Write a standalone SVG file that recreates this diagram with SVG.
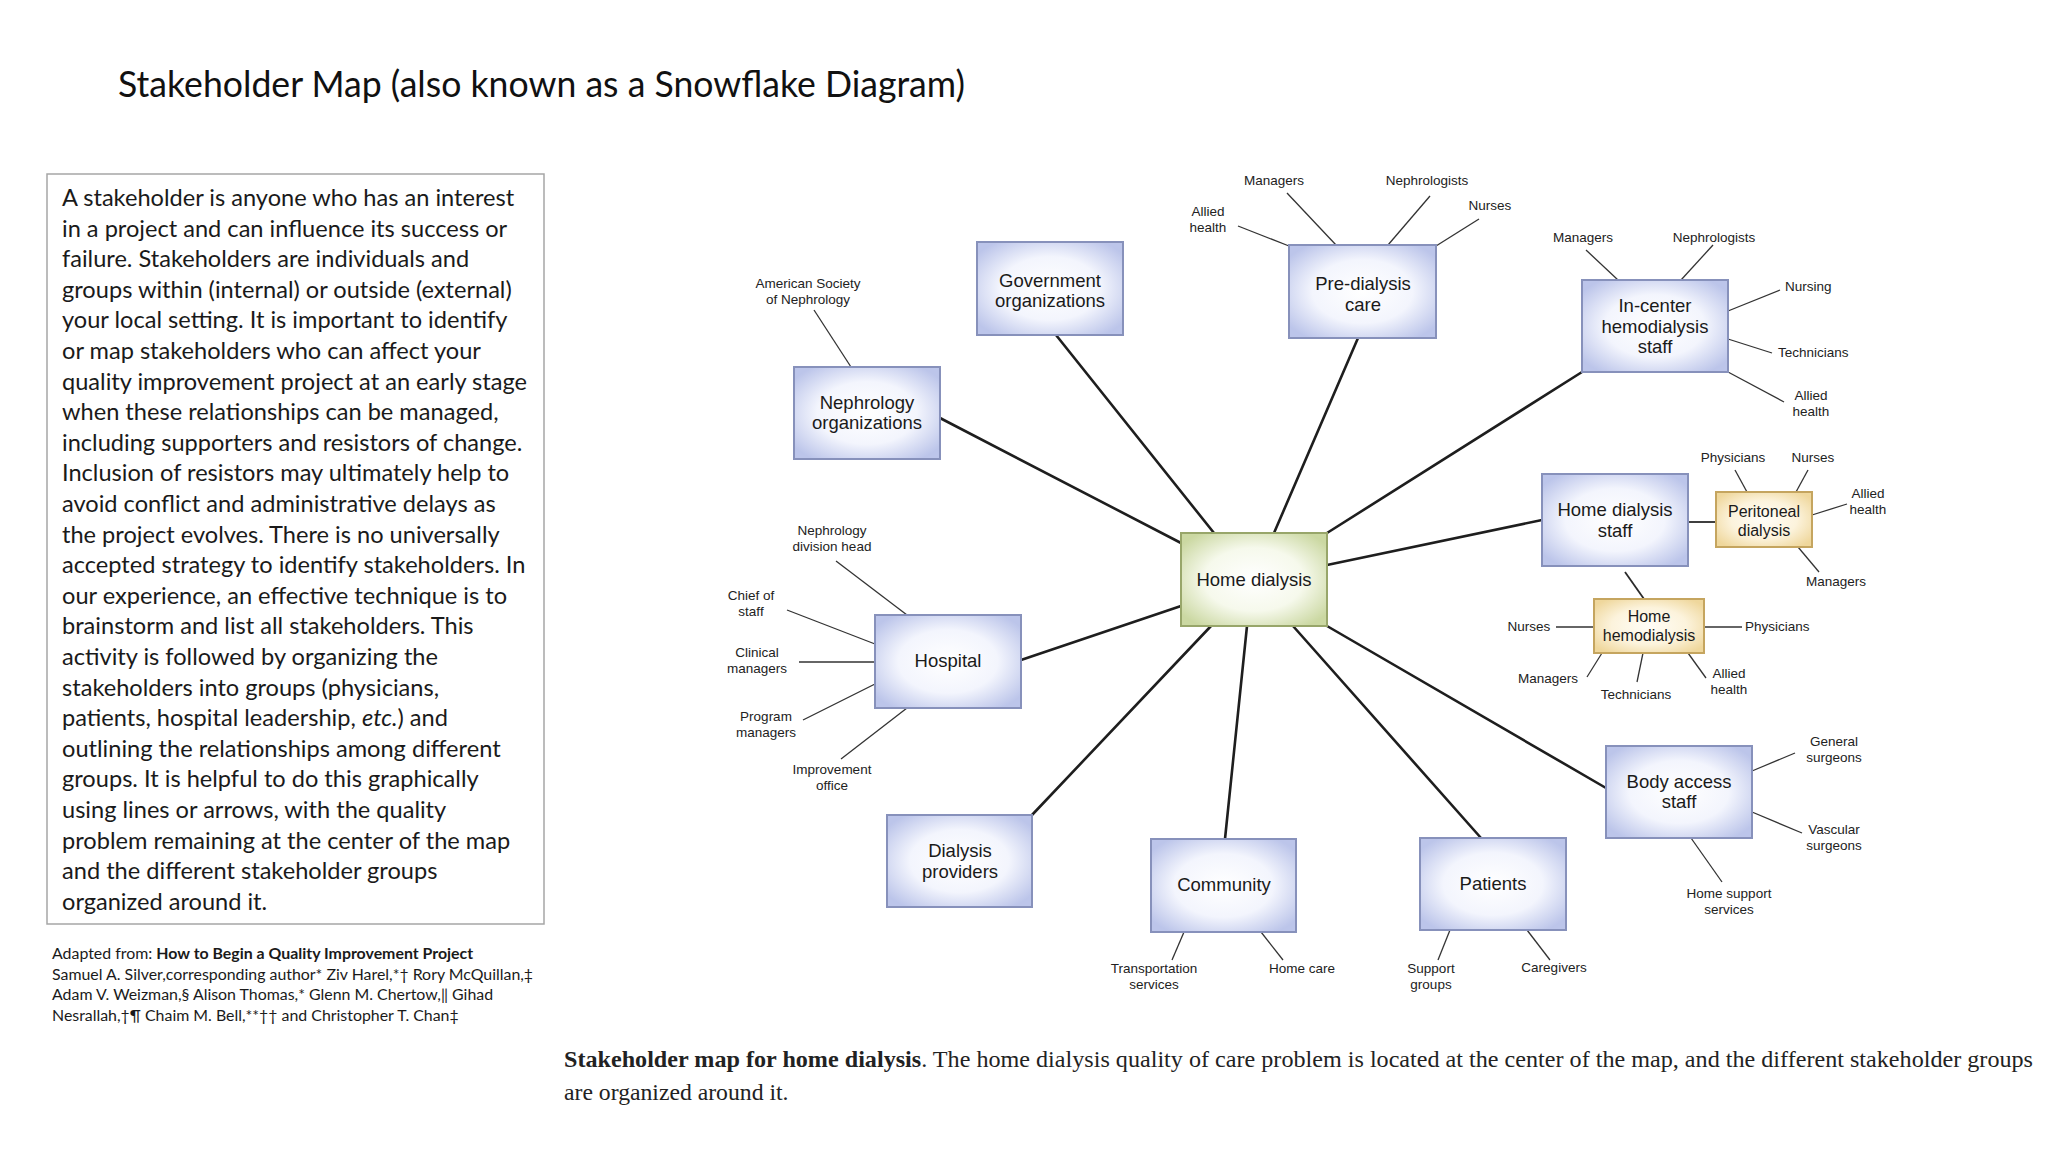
<svg xmlns="http://www.w3.org/2000/svg" width="2048" height="1152" viewBox="0 0 2048 1152">
<style>
.title{font-family:Lato,"Liberation Sans",sans-serif;font-size:36px;font-weight:400;fill:#111}
.body{font-family:Lato,"Liberation Sans",sans-serif;font-size:23.6px;fill:#1a1a1a}
.foot{font-family:Lato,"Liberation Sans",sans-serif;font-size:15.9px;fill:#1a1a1a}
.cap{font-family:"Liberation Serif","Times New Roman",serif;font-size:23.7px;fill:#222}
.lbl{font-family:"Liberation Sans",Arial,sans-serif;font-size:18.5px;fill:#1a1a1a;text-anchor:middle}
.sm{font-family:"Liberation Sans",Arial,sans-serif;font-size:16px;fill:#1a1a1a;text-anchor:middle}
.leaf{font-family:"Liberation Sans",Arial,sans-serif;font-size:13.5px;fill:#222;text-anchor:middle}
.st{text-anchor:start}
.main line{stroke:#1e1e1e;stroke-width:2.6;stroke-linecap:round}
.med line{stroke:#2a2a2a;stroke-width:1.8}
.thin line{stroke:#333;stroke-width:1.3}
.bb{fill:url(#gBlue);stroke:#8791bb;stroke-width:2}
.gb{fill:url(#gGreen);stroke:#98a66a;stroke-width:2}
.yb{fill:url(#gYellow);stroke:#c5a55f;stroke-width:2}
</style>
<defs>
<radialGradient id="gBlue" cx="50%" cy="50%" r="62%">
<stop offset="0" stop-color="#ffffff"/><stop offset="0.55" stop-color="#f3f5fd"/><stop offset="1" stop-color="#bcc5ea"/>
</radialGradient>
<radialGradient id="gGreen" cx="50%" cy="50%" r="62%">
<stop offset="0" stop-color="#ffffff"/><stop offset="0.55" stop-color="#f6f9ec"/><stop offset="1" stop-color="#cbd8a2"/>
</radialGradient>
<radialGradient id="gYellow" cx="50%" cy="50%" r="62%">
<stop offset="0" stop-color="#fffdf7"/><stop offset="0.55" stop-color="#fcf3dc"/><stop offset="1" stop-color="#efd79c"/>
</radialGradient>
</defs>
<rect width="2048" height="1152" fill="#ffffff"/>

<text class="title" x="118" y="97" textLength="847" lengthAdjust="spacingAndGlyphs">Stakeholder Map (also known as a Snowflake Diagram)</text>

<g id="textbox">
<rect x="47" y="174" width="497" height="750" fill="none" stroke="#a6a6a6" stroke-width="1.5"/>
<text class="body" x="62" y="206">A stakeholder is anyone who has an interest</text>
<text class="body" x="62" y="236.6">in a project and can influence its success or</text>
<text class="body" x="62" y="267.2">failure. Stakeholders are individuals and</text>
<text class="body" x="62" y="297.8">groups within (internal) or outside (external)</text>
<text class="body" x="62" y="328.4">your local setting. It is important to identify</text>
<text class="body" x="62" y="359">or map stakeholders who can affect your</text>
<text class="body" x="62" y="389.6">quality improvement project at an early stage</text>
<text class="body" x="62" y="420.2">when these relationships can be managed,</text>
<text class="body" x="62" y="450.8">including supporters and resistors of change.</text>
<text class="body" x="62" y="481.4">Inclusion of resistors may ultimately help to</text>
<text class="body" x="62" y="512">avoid conflict and administrative delays as</text>
<text class="body" x="62" y="542.6">the project evolves. There is no universally</text>
<text class="body" x="62" y="573.2">accepted strategy to identify stakeholders. In</text>
<text class="body" x="62" y="603.8">our experience, an effective technique is to</text>
<text class="body" x="62" y="634.4">brainstorm and list all stakeholders. This</text>
<text class="body" x="62" y="665">activity is followed by organizing the</text>
<text class="body" x="62" y="695.6">stakeholders into groups (physicians,</text>
<text class="body" x="62" y="726.2">patients, hospital leadership, <tspan font-style="italic">etc.</tspan>) and</text>
<text class="body" x="62" y="756.8">outlining the relationships among different</text>
<text class="body" x="62" y="787.4">groups. It is helpful to do this graphically</text>
<text class="body" x="62" y="818">using lines or arrows, with the quality</text>
<text class="body" x="62" y="848.6">problem remaining at the center of the map</text>
<text class="body" x="62" y="879.2">and the different stakeholder groups</text>
<text class="body" x="62" y="909.8">organized around it.</text>
</g>

<g id="reference">
<text class="foot" x="52" y="959">Adapted from: <tspan font-weight="bold">How to Begin a Quality Improvement Project</tspan></text>
<text class="foot" x="52" y="979.5">Samuel A. Silver,corresponding author* Ziv Harel,*† Rory McQuillan,‡</text>
<text class="foot" x="52" y="1000">Adam V. Weizman,§ Alison Thomas,* Glenn M. Chertow,‖ Gihad</text>
<text class="foot" x="52" y="1020.5">Nesrallah,†¶ Chaim M. Bell,**†† and Christopher T. Chan‡</text>
</g>

<g id="caption">
<text class="cap" x="564" y="1067" textLength="1469" lengthAdjust="spacingAndGlyphs"><tspan font-weight="bold">Stakeholder map for home dialysis</tspan>. The home dialysis quality of care problem is located at the center of the map, and the different stakeholder groups</text>
<text class="cap" x="564" y="1100">are organized around it.</text>
</g>

<g id="connectors">
<g class="main">
<line x1="940" y1="418" x2="1181" y2="543"/>
<line x1="1056" y1="335" x2="1214" y2="533"/>
<line x1="1358" y1="338" x2="1274" y2="533"/>
<line x1="1582" y1="372" x2="1327" y2="533"/>
<line x1="1327" y1="565" x2="1542" y2="520"/>
<line x1="1327" y1="626" x2="1606" y2="788"/>
<line x1="1293" y1="626" x2="1481" y2="838"/>
<line x1="1247" y1="626" x2="1225" y2="839"/>
<line x1="1211" y1="626" x2="1032" y2="815"/>
<line x1="1021" y1="660" x2="1181" y2="606"/>
</g>
<g class="med">
<line x1="1688" y1="522" x2="1716" y2="522"/>
<line x1="1625" y1="572" x2="1644" y2="599"/>
</g>
<g class="thin">
<line x1="814" y1="310" x2="851" y2="367"/>
<line x1="1287" y1="193" x2="1336" y2="245"/>
<line x1="1430" y1="196" x2="1388" y2="245"/>
<line x1="1479" y1="219" x2="1436" y2="246"/>
<line x1="1238" y1="226" x2="1289" y2="246"/>
<line x1="1586" y1="250" x2="1618" y2="280"/>
<line x1="1713" y1="245" x2="1681" y2="280"/>
<line x1="1780" y1="290" x2="1728" y2="311"/>
<line x1="1772" y1="353" x2="1728" y2="339"/>
<line x1="1784" y1="402" x2="1728" y2="372"/>
<line x1="1735" y1="470" x2="1747" y2="492"/>
<line x1="1808" y1="470" x2="1796" y2="492"/>
<line x1="1847" y1="504" x2="1812" y2="515"/>
<line x1="1819" y1="572" x2="1798" y2="547"/>
<line x1="1556" y1="627" x2="1594" y2="627"/>
<line x1="1704" y1="627" x2="1742" y2="627"/>
<line x1="1587" y1="677" x2="1602" y2="653"/>
<line x1="1637" y1="682" x2="1643" y2="653"/>
<line x1="1706" y1="678" x2="1688" y2="653"/>
<line x1="1795" y1="753" x2="1752" y2="771"/>
<line x1="1802" y1="833" x2="1752" y2="812"/>
<line x1="1722" y1="882" x2="1691" y2="838"/>
<line x1="1438" y1="960" x2="1450" y2="930"/>
<line x1="1550" y1="960" x2="1527" y2="930"/>
<line x1="1172" y1="960" x2="1184" y2="932"/>
<line x1="1283" y1="960" x2="1261" y2="932"/>
<line x1="836" y1="561" x2="907" y2="615"/>
<line x1="787" y1="610" x2="875" y2="644"/>
<line x1="799" y1="662" x2="875" y2="662"/>
<line x1="803" y1="720" x2="875" y2="684"/>
<line x1="841" y1="759" x2="907" y2="708"/>
</g>
</g>

<g id="home-dialysis">
<rect class="gb" x="1181" y="533" width="146" height="93"/>
<text class="lbl" x="1254" y="586" font-size="20.5">Home dialysis</text>
</g>
<g id="government-organizations">
<rect class="bb" x="977" y="242" width="146" height="93"/>
<text class="lbl" x="1050" y="287">Government</text>
<text class="lbl" x="1050" y="307">organizations</text>
</g>
<g id="nephrology-organizations">
<rect class="bb" x="794" y="367" width="146" height="92"/>
<text class="lbl" x="867" y="409">Nephrology</text>
<text class="lbl" x="867" y="429">organizations</text>
<text class="leaf" x="808" y="288">American Society</text>
<text class="leaf" x="808" y="304">of Nephrology</text>
</g>
<g id="pre-dialysis-care">
<rect class="bb" x="1289" y="245" width="147" height="93"/>
<text class="lbl" x="1363" y="290">Pre-dialysis</text>
<text class="lbl" x="1363" y="311">care</text>
<text class="leaf" x="1274" y="185">Managers</text>
<text class="leaf" x="1427" y="185">Nephrologists</text>
<text class="leaf" x="1490" y="210">Nurses</text>
<text class="leaf" x="1208" y="216">Allied</text>
<text class="leaf" x="1208" y="232">health</text>
</g>
<g id="in-center-hemodialysis-staff">
<rect class="bb" x="1582" y="280" width="146" height="92"/>
<text class="lbl" x="1655" y="312">In-center</text>
<text class="lbl" x="1655" y="333">hemodialysis</text>
<text class="lbl" x="1655" y="353">staff</text>
<text class="leaf" x="1583" y="242">Managers</text>
<text class="leaf" x="1714" y="242">Nephrologists</text>
<text class="leaf st" x="1785" y="291">Nursing</text>
<text class="leaf st" x="1778" y="357">Technicians</text>
<text class="leaf" x="1811" y="400">Allied</text>
<text class="leaf" x="1811" y="416">health</text>
</g>
<g id="home-dialysis-staff">
<rect class="bb" x="1542" y="474" width="146" height="92"/>
<text class="lbl" x="1615" y="516">Home dialysis</text>
<text class="lbl" x="1615" y="537">staff</text>
</g>
<g id="peritoneal-dialysis">
<rect class="yb" x="1716" y="492" width="96" height="55"/>
<text class="sm" x="1764" y="517">Peritoneal</text>
<text class="sm" x="1764" y="536">dialysis</text>
<text class="leaf" x="1733" y="462">Physicians</text>
<text class="leaf" x="1813" y="462">Nurses</text>
<text class="leaf" x="1868" y="498">Allied</text>
<text class="leaf" x="1868" y="514">health</text>
<text class="leaf" x="1836" y="586">Managers</text>
</g>
<g id="home-hemodialysis">
<rect class="yb" x="1594" y="599" width="110" height="54"/>
<text class="sm" x="1649" y="622">Home</text>
<text class="sm" x="1649" y="641">hemodialysis</text>
<text class="leaf" x="1529" y="631">Nurses</text>
<text class="leaf st" x="1745" y="631">Physicians</text>
<text class="leaf" x="1548" y="683">Managers</text>
<text class="leaf" x="1636" y="699">Technicians</text>
<text class="leaf" x="1729" y="678">Allied</text>
<text class="leaf" x="1729" y="694">health</text>
</g>
<g id="body-access-staff">
<rect class="bb" x="1606" y="746" width="146" height="92"/>
<text class="lbl" x="1679" y="788">Body access</text>
<text class="lbl" x="1679" y="808">staff</text>
<text class="leaf" x="1834" y="746">General</text>
<text class="leaf" x="1834" y="762">surgeons</text>
<text class="leaf" x="1834" y="834">Vascular</text>
<text class="leaf" x="1834" y="850">surgeons</text>
<text class="leaf" x="1729" y="898">Home support</text>
<text class="leaf" x="1729" y="914">services</text>
</g>
<g id="patients">
<rect class="bb" x="1420" y="838" width="146" height="92"/>
<text class="lbl" x="1493" y="890">Patients</text>
<text class="leaf" x="1431" y="973">Support</text>
<text class="leaf" x="1431" y="989">groups</text>
<text class="leaf" x="1554" y="972">Caregivers</text>
</g>
<g id="community">
<rect class="bb" x="1151" y="839" width="145" height="93"/>
<text class="lbl" x="1224" y="891">Community</text>
<text class="leaf" x="1154" y="973">Transportation</text>
<text class="leaf" x="1154" y="989">services</text>
<text class="leaf" x="1302" y="973">Home care</text>
</g>
<g id="dialysis-providers">
<rect class="bb" x="887" y="815" width="145" height="92"/>
<text class="lbl" x="960" y="857">Dialysis</text>
<text class="lbl" x="960" y="878">providers</text>
</g>
<g id="hospital">
<rect class="bb" x="875" y="615" width="146" height="93"/>
<text class="lbl" x="948" y="667">Hospital</text>
<text class="leaf" x="832" y="535">Nephrology</text>
<text class="leaf" x="832" y="551">division head</text>
<text class="leaf" x="751" y="600">Chief of</text>
<text class="leaf" x="751" y="616">staff</text>
<text class="leaf" x="757" y="657">Clinical</text>
<text class="leaf" x="757" y="673">managers</text>
<text class="leaf" x="766" y="721">Program</text>
<text class="leaf" x="766" y="737">managers</text>
<text class="leaf" x="832" y="774">Improvement</text>
<text class="leaf" x="832" y="790">office</text>
</g>
</svg>
